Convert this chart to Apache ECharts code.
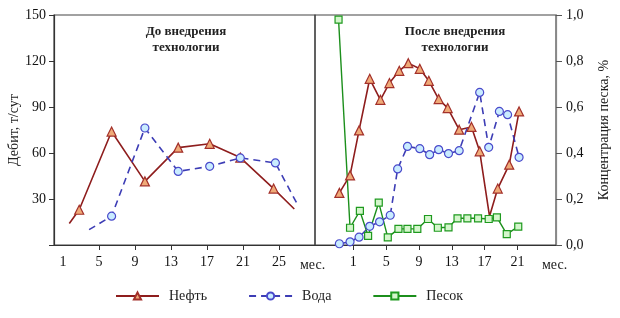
<!DOCTYPE html>
<html>
<head>
<meta charset="utf-8">
<script src="https://cdn.jsdelivr.net/npm/echarts@6/dist/echarts.min.js"></script>
<style>
  html, body { margin: 0; padding: 0; background: #fff; }
  #chart { width: 620px; height: 318px; }
</style>
</head>
<body>
<div id="chart"></div>
<script>
// до внедрения (левая панель)
var beforeOilMonth = [1.7, 2.8, 6.4, 10.1, 13.8, 17.3, 20.7, 24.4, 26.7];
var beforeOil = [14, 23, 74, 41.5, 63.5, 66, 57, 36.8, 23.5];
var beforeWaterMonth = [3.9, 6.4, 10.1, 13.8, 17.3, 20.7, 24.6, 27];
var beforeWater = [10, 18.8, 76.3, 48, 51.3, 56.8, 53.5, 27];

// после внедрения (правая панель)
var afterOilMonth = [-0.7, 0.6, 1.7, 3.0, 4.3, 5.4, 6.6, 7.7, 9.1, 10.2, 11.4, 12.5, 13.9, 15.4, 16.4, 17.6, 18.6, 20.0, 21.2];
var afterOil = [34, 45.4, 74.7, 108.4, 94.7, 105.6, 113.6, 118.6, 114.9, 107.1, 95.2, 89.3, 75.2, 77, 61.1, 18.7, 36.8, 52.4, 87.1];
var afterWaterMonth = [-0.7, 0.6, 1.7, 3.0, 4.2, 5.5, 6.4, 7.6, 9.1, 10.3, 11.4, 12.6, 13.9, 16.4, 17.5, 18.8, 19.8, 21.2];
var afterWater = [0.8, 2.1, 5.1, 12.2, 15.1, 19.4, 49.6, 64.3, 62.8, 58.9, 62.2, 59.6, 61.5, 99.5, 63.7, 87.1, 85, 57.2];
var sandMonth = [-0.8, 0.6, 1.8, 2.8, 4.1, 5.2, 6.5, 7.6, 8.8, 10.1, 11.3, 12.6, 13.7, 14.9, 16.2, 17.5, 18.5, 19.7, 21.1];
var sand = [0.98, 0.075, 0.148, 0.04, 0.184, 0.033, 0.07, 0.07, 0.07, 0.113, 0.075, 0.077, 0.116, 0.116, 0.116, 0.113, 0.12, 0.047, 0.08];

var leftTicks = [1, 5, 9, 13, 17, 21, 25];
var rightTicks = [1, 5, 9, 13, 17, 21];

function pairs(xs, ys) {
  return xs.map(function (x, i) { return [x, ys[i]]; });
}

var font = "'Liberation Serif', 'DejaVu Serif', serif";
var oilStyle = {
  line: { color: "#8e1d1d", width: 1.6 },
  item: { color: "#efaa78", borderColor: "#a3302a", borderWidth: 1.2 }
};
var waterStyle = {
  line: { color: "#3d3db5", width: 1.6, type: [7, 5] },
  item: { color: "#c9ecff", borderColor: "#4a4acb", borderWidth: 1.2 }
};
var sandStyle = {
  line: { color: "#1c8f1c", width: 1.4 },
  item: { color: "#d4f6cc", borderColor: "#1f9a1f", borderWidth: 1.2 }
};

// маркеры скрыты на концах линий левой панели
function hideEnds(n, size) {
  return function (v, p) {
    return (p.dataIndex === 0 || p.dataIndex === n - 1) ? 0 : size;
  };
}

var myChart = echarts.init(document.getElementById("chart"));
var xAxisBase = {
  type: "value",
  splitLine: { show: false },
  axisLine: { lineStyle: { color: "#333", width: 1.2 } },
  axisTick: { show: true, length: 5, lineStyle: { color: "#333" } },
  axisLabel: { show: true, color: "#111", fontFamily: font, fontSize: 14, margin: 10 }
};

var option = {
  animation: false,
  textStyle: { fontFamily: font },
  grid: [
    { left: 54, top: 15, width: 261, height: 230, show: true, borderColor: "#444", borderWidth: 1.2 },
    { left: 315, top: 15, width: 241, height: 230, show: true, borderColor: "#444", borderWidth: 1.2 }
  ],
  xAxis: [
    echarts.util.merge({
      gridIndex: 0, min: 0, max: 29,
      axisTick: { customValues: leftTicks.slice(1) },
      axisLabel: { customValues: leftTicks }
    }, xAxisBase),
    echarts.util.merge({
      gridIndex: 1, min: -3.67, max: 25.7,
      axisTick: { customValues: rightTicks },
      axisLabel: { customValues: rightTicks }
    }, xAxisBase)
  ],
  yAxis: [
    {
      type: "value", gridIndex: 0, min: 0, max: 150, interval: 30,
      name: "Дебит, т/сут", nameLocation: "middle", nameRotate: 90, nameGap: 33,
      nameTextStyle: { color: "#222", fontFamily: font, fontSize: 14 },
      splitLine: { show: false },
      axisLine: { show: true, lineStyle: { color: "#333", width: 1.2 } },
      axisTick: { show: true, length: 5, lineStyle: { color: "#333" } },
      axisLabel: {
        color: "#111", fontFamily: font, fontSize: 14, margin: 8,
        formatter: function (v) { return v === 0 ? "" : v; }
      }
    },
    {
      type: "value", gridIndex: 1, min: 0, max: 150, interval: 30,
      show: false
    },
    {
      type: "value", gridIndex: 1, position: "right", min: 0, max: 1, interval: 0.2,
      name: "Концентрация песка, %", nameLocation: "middle", nameRotate: 90, nameGap: 41,
      nameTextStyle: { color: "#222", fontFamily: font, fontSize: 14 },
      splitLine: { show: false },
      axisLine: { show: true, lineStyle: { color: "#888", width: 1.2 } },
      axisTick: { show: true, length: 6, lineStyle: { color: "#555" } },
      axisLabel: {
        color: "#111", fontFamily: font, fontSize: 14, margin: 10,
        formatter: function (v) { return v.toFixed(1).replace(".", ","); }
      }
    }
  ],
  legend: {
    left: 110, top: 284, itemWidth: 43, itemHeight: 9, itemGap: 41,
    textStyle: { color: "#222", fontFamily: font, fontSize: 14, padding: [0, 0, 0, 5] },
    data: ["Нефть", "Вода", "Песок"]
  },
  graphic: [
    { type: "text", x: 186, y: 24, style: { text: "До внедрения\nтехнологии", fill: "#222", font: "bold 13px " + font, align: "center", lineHeight: 16 } },
    { type: "text", x: 455, y: 24, style: { text: "После внедрения\nтехнологии", fill: "#222", font: "bold 13px " + font, align: "center", lineHeight: 16 } },
    { type: "text", left: 300, top: 258, style: { text: "мес.", fill: "#222", font: "14px " + font } },
    { type: "text", left: 542, top: 258, style: { text: "мес.", fill: "#222", font: "14px " + font } }
  ],
  series: [
    {
      name: "Нефть", type: "line", xAxisIndex: 0, yAxisIndex: 0,
      data: pairs(beforeOilMonth, beforeOil),
      symbol: "triangle", symbolSize: hideEnds(beforeOil.length, 9),
      lineStyle: oilStyle.line, itemStyle: oilStyle.item
    },
    {
      name: "Вода", type: "line", xAxisIndex: 0, yAxisIndex: 0,
      data: pairs(beforeWaterMonth, beforeWater),
      symbol: "circle", symbolSize: hideEnds(beforeWater.length, 8),
      lineStyle: waterStyle.line, itemStyle: waterStyle.item
    },
    {
      name: "Нефть", type: "line", xAxisIndex: 1, yAxisIndex: 1,
      data: pairs(afterOilMonth, afterOil),
      symbol: "triangle",
      symbolSize: function (v, p) { return p.dataIndex === 15 ? 0 : 9; },
      lineStyle: oilStyle.line, itemStyle: oilStyle.item
    },
    {
      name: "Вода", type: "line", xAxisIndex: 1, yAxisIndex: 1,
      data: pairs(afterWaterMonth, afterWater),
      symbol: "circle", symbolSize: 8,
      lineStyle: waterStyle.line, itemStyle: waterStyle.item
    },
    {
      name: "Песок", type: "line", xAxisIndex: 1, yAxisIndex: 2,
      data: pairs(sandMonth, sand),
      symbol: "rect", symbolSize: 7,
      lineStyle: sandStyle.line, itemStyle: sandStyle.item
    }
  ]
};
myChart.setOption(option, true);
</script>
</body>
</html>
